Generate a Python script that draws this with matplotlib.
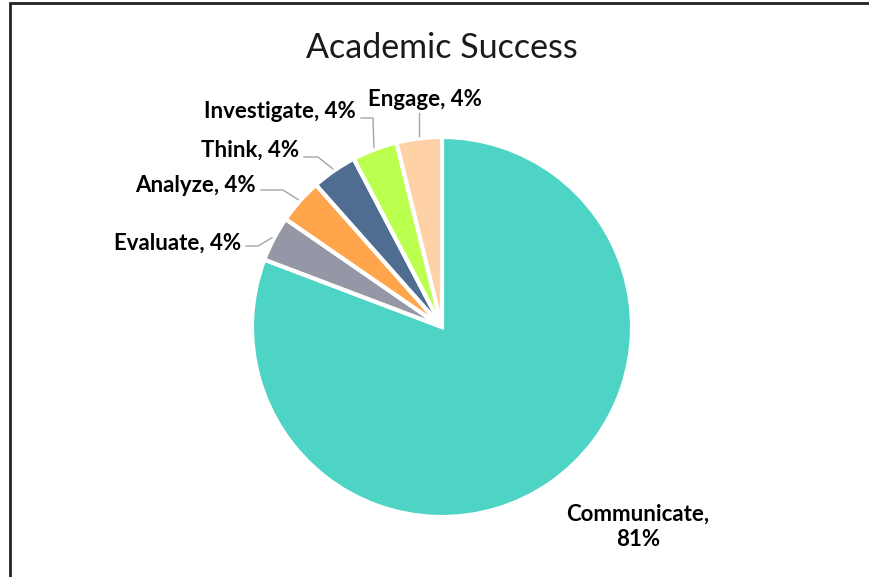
import numpy as np
import matplotlib
matplotlib.use('Agg')
import matplotlib.pyplot as plt
from matplotlib.patches import Rectangle

# Данные диаграммы
labels = ['Communicate', 'Evaluate', 'Analyze', 'Think', 'Investigate', 'Engage']
values = [21, 1, 1, 1, 1, 1]
colors = ['#4DD4C5', '#9597A7', '#FFA64D', '#4E6D90', '#BBFF4F', '#FFD1A6']

W, H = 869, 577
plt.rcParams['font.family'] = ['Lato', 'DejaVu Sans']

fig = plt.figure(figsize=(W / 100, H / 100), dpi=100)
ax = fig.add_axes([0, 0, 1, 1])

# рамка
fig.patches.append(Rectangle((10 / W, -0.1), 2.0, (H - 3) / H + 0.1,
                             transform=fig.transFigure, fill=False,
                             edgecolor='#222222', linewidth=2))

cx, cy, r = 442, H - 327, 190
wedges, _ = ax.pie(values, colors=colors, startangle=90, counterclock=False,
                   center=(cx, cy), radius=r, frame=True,
                   wedgeprops=dict(edgecolor='white', linewidth=3))
ax.set_xlim(0, W)
ax.set_ylim(0, H)
ax.set_aspect('equal')
ax.axis('off')

total = sum(values)
pct = [f'{round(v / total * 100)}%' for v in values]

ax.text(cx, H - 48, 'Academic Success', ha='center', va='center',
        fontsize=24.5, color='#1a1a1a')

# подписи: (x текста, y текста, ha, излом линии)
label_pos = {
    'Evaluate': (241, 243, 'right', (258, 246)),
    'Analyze': (256, 185, 'right', (283, 190)),
    'Think': (299, 150, 'right', (318, 157)),
    'Investigate': (356, 111, 'right', (373, 118)),
    'Engage': (425, 100, 'center', None),
}

fs = 16
for i, name in enumerate(labels):
    w = wedges[i]
    mid = np.deg2rad((w.theta1 + w.theta2) / 2)
    px, py = cx + (r + 2) * np.cos(mid), cy + (r + 2) * np.sin(mid)
    if name == 'Communicate':
        ax.text(638, H - 527, f'{name},\n{pct[i]}', ha='center', va='center',
                fontsize=fs, fontweight='bold', linespacing=1.27)
        continue
    tx, ty, ha, elbow = label_pos[name]
    ax.text(tx, H - ty, f'{name}, {pct[i]}', ha=ha, va='center',
            fontsize=fs, fontweight='bold')
    if elbow is None:
        ax.plot([px, px], [py, H - 113], color='#A6A6A6', lw=1)
    else:
        ex, ey = elbow
        ax.plot([tx + 5, ex, px], [H - ey, H - ey, py], color='#A6A6A6', lw=1)

fig.savefig('out.png', dpi=100)
